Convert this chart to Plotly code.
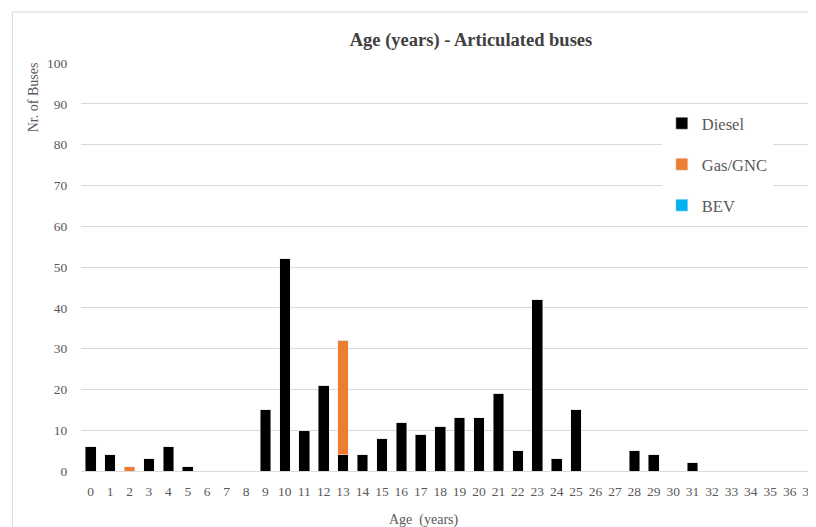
import plotly.graph_objects as go

ages = [str(i) for i in range(38)]
diesel = [6, 4, 0, 3, 6, 1, 0, 0, 0, 15, 52, 10, 21, 4, 4, 8, 12, 9, 11, 13, 13, 19, 5, 42, 3, 15,
          0, 0, 5, 4, 0, 2, 0, 0, 0, 0, 0, 0]
gas = [0, 0, 1, 0, 0, 0, 0, 0, 0, 0, 0, 0, 0, 28, 0, 0, 0, 0, 0, 0, 0, 0, 0, 0, 0, 0,
       0, 0, 0, 0, 0, 0, 0, 0, 0, 0, 0, 0]
bev = [0] * 38
y_ticks = list(range(0, 101, 10))

FONT = "Liberation Serif"
GRAY = "#595959"

# page is offset by 8px body margin; figure coords = screen - 8
L, T, B = 73, 55, 463
W = 808 - L
H = B - T

fig = go.Figure()
fig.add_trace(go.Bar(x=ages, y=diesel, name="Diesel", marker_color="#000000", legendgroup="a"))
fig.add_trace(go.Bar(x=ages, y=gas, name="Gas/GNC", marker_color="#ED7D31", legendgroup="b"))
fig.add_trace(go.Bar(x=ages, y=bev, name="BEV", marker_color="#00B0F0", legendgroup="c"))

fig.update_layout(
    width=816, height=527,
    barmode="stack", bargap=0.45,
    paper_bgcolor="white", plot_bgcolor="white",
    margin=dict(l=L, r=816 - 808, t=T, b=527 - B),
    font=dict(family=FONT, color=GRAY, size=14),
    title=dict(text="<b>Age (years) - Articulated buses</b>", x=463 / 816, xanchor="center",
               y=1 - 32 / 527, yanchor="middle", font=dict(size=18.5, color="#404040", family=FONT)),
    legend=dict(x=(657 - L) / W, xanchor="left", y=1 - (98 - T) / H, yanchor="top", bgcolor="white",
                tracegroupgap=16.5, font=dict(size=16.5, color=GRAY, family=FONT),
                itemwidth=30, traceorder="grouped"),
    xaxis=dict(type="category", range=[-0.5, 37.15], showgrid=False, showline=False,
               ticks="outside", ticklen=8, tickcolor="rgba(0,0,0,0)",
               tickfont=dict(size=13.5, color=GRAY, family=FONT)),
    yaxis=dict(range=[0, 100], tickvals=y_ticks, showgrid=True, gridcolor="#D9D9D9",
               zeroline=True, zerolinecolor="#D9D9D9", zerolinewidth=1,
               ticks="outside", ticklen=10, tickcolor="rgba(0,0,0,0)",
               tickfont=dict(size=13.5, color=GRAY, family=FONT)),
    annotations=[
        dict(text="Nr. of Buses", xref="paper", yref="paper", x=(25 - L) / W,
             y=1 - (89 - T) / H, textangle=-90, showarrow=False,
             font=dict(size=14, color=GRAY, family=FONT), xanchor="center", yanchor="middle"),
        dict(text="Age  (years)", xref="paper", yref="paper", x=(418 - L) / W,
             y=-(512 - B) / H, showarrow=False,
             font=dict(size=14, color=GRAY, family=FONT), xanchor="center", yanchor="middle"),
    ],
    shapes=[
        dict(type="rect", xref="paper", yref="paper", x0=(4 - L) / W, x1=1.2,
             y0=-0.5, y1=1 + (T - 4) / H, line=dict(color="#D9D9D9", width=1),
             fillcolor="rgba(0,0,0,0)", layer="below"),
    ],
)

fig.write_html("out.html")
